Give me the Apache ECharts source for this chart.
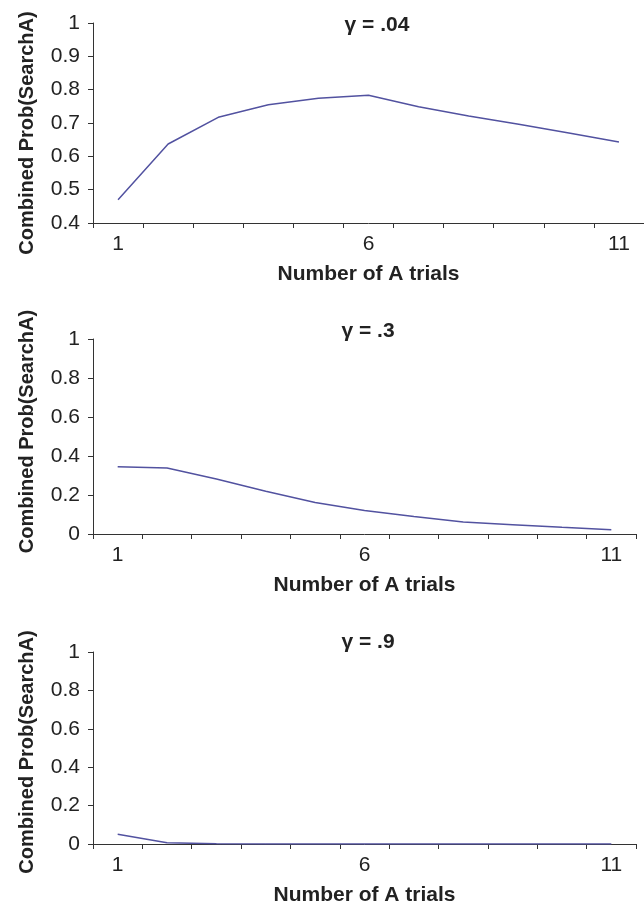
<!DOCTYPE html>
<html lang="en">
<head>
    <meta charset="utf-8">
    <script src="https://cdn.jsdelivr.net/npm/echarts@6/dist/echarts.min.js"></script>
    <style>
        html, body {margin: 0; padding: 0; background: #fff;}
        #main {width: 644px; height: 915px;}
    </style>
</head>
<body>
<div id="main"></div>
<script>
    // trials on the x axis, one series per gamma
    var trials = ['1', '2', '3', '4', '5', '6', '7', '8', '9', '10', '11'];
    var titles = ['γ = .04', 'γ = .3', 'γ = .9'];
    var g04 = [0.470, 0.637, 0.717, 0.755, 0.774, 0.783, 0.749, 0.721, 0.696, 0.670, 0.643];
    var g3 = [0.345, 0.338, 0.282, 0.219, 0.162, 0.121, 0.090, 0.061, 0.047, 0.034, 0.022];
    var g9 = [0.051, 0.007, 0.001, 0, 0, 0, 0, 0, 0, 0, 0];
    var yMin = [0.4, 0, 0];
    var yStep = [0.1, 0.2, 0.2];

    var axisColor = '#333';
    var lineColor = '#5252a0';

    var chart = echarts.init(document.getElementById('main'));

    var grids = [
        {left: 93, top: 23, width: 561, height: 200},
        {left: 93, top: 339, width: 543, height: 195},
        {left: 93, top: 652, width: 543, height: 192}
    ];
    var titleLeft = [372, 363, 363];
    var titleTop = [10, 316, 627];
    var namePad = [[0, 20, 0, 0], [0, 0, 0, 10], [0, 8, 0, 0]];
    var allData = [g04, g3, g9];

    var xAxes = [], yAxes = [], series = [], titleList = [];
    for (var i = 0; i < 3; i++) {
        titleList.push({
            text: titles[i],
            left: titleLeft[i],
            top: titleTop[i],
            textAlign: 'center',
            textStyle: {fontFamily: 'Liberation Sans', fontSize: 21, fontWeight: 'bold', color: '#222'}
        });
        xAxes.push({
            gridIndex: i,
            type: 'category',
            data: trials,
            boundaryGap: true,
            name: 'Number of A trials',
            nameLocation: 'middle',
            nameGap: 41,
            nameTextStyle: {fontFamily: 'Liberation Sans', fontSize: 21, fontWeight: 'bold', color: '#222'},
            axisLine: {show: true, lineStyle: {color: axisColor, width: 1}},
            axisTick: {show: true, interval: 0, inside: false, length: 5, lineStyle: {color: axisColor, width: 1}},
            axisLabel: {
                interval: 4,
                margin: 11,
                fontFamily: 'Liberation Sans',
                fontSize: 21,
                color: '#222'
            },
            splitLine: {show: false}
        });
        yAxes.push({
            gridIndex: i,
            type: 'value',
            min: yMin[i],
            max: 1,
            interval: yStep[i],
            name: 'Combined Prob(SearchA)',
            nameLocation: 'middle',
            nameGap: 56,
            nameTextStyle: {
                fontFamily: 'Liberation Sans', fontSize: 20, fontWeight: 'bold', color: '#222',
                padding: namePad[i]
            },
            axisLine: {show: true, lineStyle: {color: axisColor, width: 1}},
            axisTick: {show: true, inside: false, length: 5, lineStyle: {color: axisColor, width: 1}},
            axisLabel: {
                margin: 13,
                fontFamily: 'Liberation Sans',
                fontSize: 21,
                color: '#222',
                formatter: function (v) {
                    return String(Math.round(v * 10) / 10);
                }
            },
            splitLine: {show: false}
        });
        series.push({
            type: 'line',
            xAxisIndex: i,
            yAxisIndex: i,
            data: allData[i],
            symbol: 'none',
            smooth: false,
            lineStyle: {color: lineColor, width: 1.5},
            animation: false
        });
    }

    chart.setOption({
        animation: false,
        backgroundColor: '#fff',
        title: titleList,
        grid: grids,
        xAxis: xAxes,
        yAxis: yAxes,
        series: series
    });
</script>
</body>
</html>
